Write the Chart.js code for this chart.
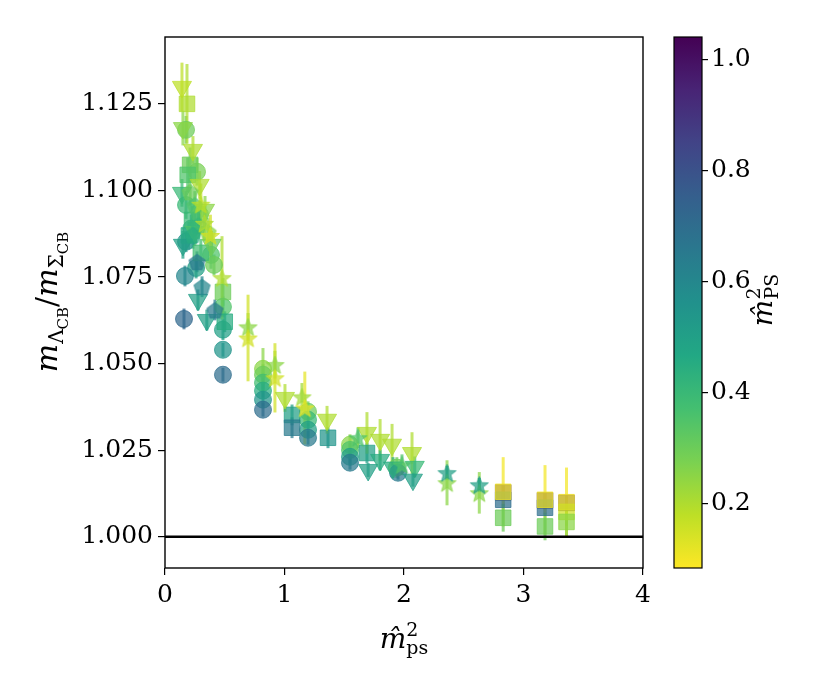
<!DOCTYPE html>
<html>
<head>
<meta charset="utf-8">
<script src="https://cdn.jsdelivr.net/npm/chart.js@4"></script>
<style>
  body { margin: 0; background: #fff; }
  #wrap { position: relative; width: 830px; height: 698px; }
  #wrap canvas { position: absolute; left: 0; top: 0; }
</style>
</head>
<body>
<div id="wrap">
  <canvas id="mainChart" width="830" height="698"></canvas>
  <canvas id="cbChart" width="830" height="698"></canvas>
</div>
<script>
/* ================= DATA ================= */
const X_TICKS = [0, 1, 2, 3, 4];
const Y_TICKS = [1.000, 1.025, 1.050, 1.075, 1.100, 1.125];
const CB_TICKS = [0.2, 0.4, 0.6, 0.8, 1.0];
const CB_MIN = 0.083, CB_MAX = 1.041;

// circles
const CIRC_X = [0.176, 0.268, 0.176, 0.293, 0.22, 0.176, 0.385, 0.41, 0.26, 0.167, 0.159, 0.485, 0.485, 0.485, 0.485,
  0.82, 0.82, 0.82, 0.82, 0.82, 0.82, 1.197, 1.197, 1.197, 1.197, 1.548, 1.548, 1.548, 1.548, 1.94, 1.95];
const CIRC_Y = [1.1175, 1.1054, 1.0958, 1.0930, 1.0890, 1.0852, 1.0814, 1.0785, 1.0776, 1.0753, 1.0629, 1.0664, 1.0598, 1.0540, 1.0468,
  1.0485, 1.0468, 1.0445, 1.0422, 1.0396, 1.0367, 1.0361, 1.0338, 1.0309, 1.0286, 1.0266, 1.0251, 1.0231, 1.0214, 1.0200, 1.0185];
const CIRC_ERR = [0.004, 0.004, 0.004, 0.004, 0.004, 0.003, 0.004, 0.003, 0.003, 0.003, 0.003, 0.003, 0.003, 0.002, 0.002,
  0.006, 0.003, 0.003, 0.002, 0.002, 0.002, 0.003, 0.002, 0.002, 0.002, 0.003, 0.002, 0.002, 0.002, 0.003, 0.002];
const CIRC_C = [0.30, 0.28, 0.40, 0.30, 0.45, 0.55, 0.35, 0.30, 0.50, 0.60, 0.72, 0.35, 0.50, 0.55, 0.70,
  0.25, 0.30, 0.38, 0.45, 0.55, 0.70, 0.30, 0.40, 0.50, 0.65, 0.25, 0.35, 0.50, 0.65, 0.30, 0.65];

// squares
const SQ_X = [0.184, 0.21, 0.19, 0.226, 0.20, 0.30, 0.485, 0.50, 1.063, 1.063, 1.364, 1.69,
  2.83, 2.83, 2.83, 2.83, 3.18, 3.18, 3.18, 3.18, 3.36, 3.36, 3.36, 3.36];
const SQ_Y = [1.1250, 1.1074, 1.1045, 1.0915, 1.0870, 1.0820, 1.0707, 1.0621, 1.0352, 1.0315, 1.0286, 1.0242,
  1.0128, 1.0107, 1.0130, 1.0055, 1.0105, 1.0084, 1.0107, 1.0030, 1.0098, 1.0100, 1.0072, 1.0043];
const SQ_ERR = [0.0115, 0.005, 0.005, 0.004, 0.004, 0.004, 0.004, 0.003, 0.003, 0.003, 0.003, 0.003,
  0.002, 0.002, 0.010, 0.004, 0.002, 0.002, 0.010, 0.004, 0.002, 0.010, 0.004, 0.004];
const SQ_C = [0.20, 0.30, 0.35, 0.40, 0.45, 0.38, 0.30, 0.45, 0.50, 0.65, 0.55, 0.50,
  0.95, 0.70, 0.10, 0.30, 0.95, 0.70, 0.10, 0.30, 0.95, 0.10, 0.15, 0.25];

// triangles (down)
const TRI_X = [0.142, 0.15, 0.234, 0.142, 0.29, 0.335, 0.25, 0.15, 0.39, 0.276, 0.35,
  1.004, 1.356, 1.69, 1.70, 1.80, 1.80, 1.90, 1.908, 2.067, 2.09, 2.075];
const TRI_Y = [1.1299, 1.1180, 1.1117, 1.0993, 1.1016, 1.0944, 1.0880, 1.0843, 1.0843, 1.0684, 1.0626,
  1.0401, 1.0338, 1.0300, 1.0193, 1.0280, 1.0222, 1.0266, 1.0200, 1.0242, 1.0202, 1.0165];
const TRI_ERR = [0.007, 0.005, 0.004, 0.004, 0.004, 0.004, 0.004, 0.004, 0.004, 0.003, 0.003,
  0.004, 0.004, 0.006, 0.002, 0.006, 0.003, 0.006, 0.003, 0.006, 0.003, 0.002];
const TRI_C = [0.18, 0.25, 0.20, 0.40, 0.20, 0.25, 0.35, 0.50, 0.30, 0.50, 0.50,
  0.20, 0.20, 0.20, 0.50, 0.20, 0.45, 0.20, 0.45, 0.20, 0.40, 0.50];

// pentagons
const PENT_X = [0.21, 0.25, 0.28, 0.234, 0.36, 0.268, 0.31, 0.418];
const PENT_Y = [1.0996, 1.0958, 1.0900, 1.0872, 1.0880, 1.0794, 1.0722, 1.0655];
const PENT_ERR = [0.004, 0.004, 0.004, 0.004, 0.004, 0.003, 0.003, 0.003];
const PENT_C = [0.30, 0.35, 0.40, 0.45, 0.25, 0.65, 0.60, 0.65];

// stars
const STAR_X = [0.30, 0.33, 0.38, 0.477, 0.695, 0.695, 0.92, 0.92, 1.146, 1.17, 1.615, 1.983, 2.36, 2.36, 2.63, 2.63];
const STAR_Y = [1.0960, 1.0905, 1.0870, 1.0748, 1.0606, 1.0574, 1.0497, 1.0459, 1.0404, 1.0372, 1.0286, 1.0208, 1.0156, 1.0185, 1.0127, 1.0150];
const STAR_ERR = [0.006, 0.005, 0.006, 0.012, 0.004, 0.0125, 0.004, 0.010, 0.004, 0.0105, 0.003, 0.003, 0.0065, 0.002, 0.006, 0.002];
const STAR_C = [0.18, 0.20, 0.15, 0.20, 0.25, 0.15, 0.25, 0.15, 0.22, 0.12, 0.35, 0.35, 0.25, 0.50, 0.25, 0.50];

/* ================= COLOURS ================= */
const VIRIDIS = ['#440154', '#482475', '#414487', '#355f8d', '#2a788e', '#21918c',
  '#22a884', '#44bf70', '#7ad151', '#bddf26', '#fde725'];
const ALPHA = 0.72;

function hexRgb(h) {
  return [parseInt(h.slice(1, 3), 16), parseInt(h.slice(3, 5), 16), parseInt(h.slice(5, 7), 16)];
}

// reversed viridis: low value -> yellow
function cmap(c, a) {
  let t = (c - CB_MIN) / (CB_MAX - CB_MIN);
  t = Math.max(0, Math.min(1, t));
  const v = (1 - t) * 10;
  const i = Math.min(9, Math.floor(v));
  const f = v - i;
  const p = hexRgb(VIRIDIS[i]), q = hexRgb(VIRIDIS[i + 1]);
  const rgb = p.map((x, k) => Math.round(x + (q[k] - x) * f));
  return `rgba(${rgb[0]},${rgb[1]},${rgb[2]},${a})`;
}

/* ================= MARKERS ================= */
const markerCache = {};
function marker(shape, color, size) {
  const key = shape + color + size;
  if (markerCache[key]) return markerCache[key];
  const cv = document.createElement('canvas');
  cv.width = cv.height = size;
  const g = cv.getContext('2d');
  const cx = size / 2, cy = size / 2, r = size / 2 - 1;
  g.fillStyle = color;
  g.strokeStyle = color;
  g.lineWidth = 1;
  g.beginPath();
  if (shape === 'pentagon') {
    for (let i = 0; i < 5; i++) {
      const a = -Math.PI / 2 + i * 2 * Math.PI / 5;
      g.lineTo(cx + r * Math.cos(a), cy + r * Math.sin(a) + 1);
    }
  } else {
    for (let i = 0; i < 10; i++) {
      const a = -Math.PI / 2 + i * Math.PI / 5;
      const rr = i % 2 ? r * 0.42 : r;
      g.lineTo(cx + rr * Math.cos(a), cy + rr * Math.sin(a) + 1);
    }
  }
  g.closePath();
  g.fill();
  g.stroke();
  markerCache[key] = cv;
  return cv;
}

function pts(xs, ys) {
  return xs.map((x, i) => ({ x: x, y: ys[i] }));
}

const SERIES = [
  { xs: CIRC_X, ys: CIRC_Y, err: CIRC_ERR, cs: CIRC_C, style: 'circle', radius: 8.5 },
  { xs: SQ_X, ys: SQ_Y, err: SQ_ERR, cs: SQ_C, style: 'rect', radius: 11 },
  { xs: TRI_X, ys: TRI_Y, err: TRI_ERR, cs: TRI_C, style: 'triangle', radius: 11, rot: 180 },
  { xs: PENT_X, ys: PENT_Y, err: PENT_ERR, cs: PENT_C, style: 'pentagon', size: 19 },
  { xs: STAR_X, ys: STAR_Y, err: STAR_ERR, cs: STAR_C, style: 'star', size: 21 }
];

const datasets = SERIES.map((s, k) => {
  const ds = {
    type: 'scatter',
    data: pts(s.xs, s.ys),
    err: s.err,
    cs: s.cs,
    order: 10 - k,
    pointBackgroundColor: s.cs.map(c => cmap(c, ALPHA)),
    pointBorderColor: s.cs.map(c => cmap(c, ALPHA)),
    pointBorderWidth: 1,
    pointRotation: s.rot || 0
  };
  if (s.size) {
    ds.pointStyle = (ctx) => marker(s.style, cmap(s.cs[ctx.dataIndex], ALPHA), s.size);
    ds.pointRadius = s.size / 2;
  } else {
    ds.pointStyle = s.style;
    ds.pointRadius = s.radius;
  }
  return ds;
});

// reference line at 1
datasets.push({
  type: 'line',
  data: [{ x: 0, y: 1 }, { x: 4, y: 1 }],
  borderColor: '#000',
  borderWidth: 2.5,
  pointRadius: 0,
  order: 0
});

/* ================= PLUGINS ================= */
const errorBars = {
  id: 'errorBars',
  beforeDatasetsDraw(chart) {
    const ctx = chart.ctx;
    const yS = chart.scales.y;
    ctx.save();
    ctx.beginPath();
    ctx.rect(chart.chartArea.left, chart.chartArea.top,
      chart.chartArea.right - chart.chartArea.left, chart.chartArea.bottom - chart.chartArea.top);
    ctx.clip();
    ctx.lineWidth = 3;
    chart.data.datasets.forEach((ds, di) => {
      if (!ds.err) return;
      const meta = chart.getDatasetMeta(di);
      ds.data.forEach((p, i) => {
        const el = meta.data[i];
        ctx.strokeStyle = cmap(ds.cs[i], ALPHA);
        ctx.beginPath();
        ctx.moveTo(el.x, yS.getPixelForValue(p.y + ds.err[i]));
        ctx.lineTo(el.x, yS.getPixelForValue(p.y - ds.err[i]));
        ctx.stroke();
      });
    });
    ctx.restore();
  }
};

const frame = {
  id: 'frame',
  afterDraw(chart) {
    const a = chart.chartArea;
    const ctx = chart.ctx;
    ctx.save();
    ctx.strokeStyle = '#000';
    ctx.lineWidth = 1.4;
    ctx.strokeRect(a.left, a.top, a.right - a.left, a.bottom - a.top);
    ctx.restore();
  }
};

const SERIF = '"DejaVu Serif"';
const IT30 = 'italic 30px ' + SERIF;
const IT28 = 'italic 28px ' + SERIF;
const R30 = '30px ' + SERIF;
const R20 = '20px ' + SERIF;
const R19 = '19px ' + SERIF;
const R15 = '15px ' + SERIF;

// draws runs of text with sub/superscripts, centred on (cx, baseline)
function drawMath(ctx, runs, cx, cy, rot) {
  let x = 0, lastStart = 0;
  const starts = [];
  runs.forEach(r => {
    ctx.font = r.font;
    const w = ctx.measureText(r.t).width;
    const s = r.stack ? lastStart : x;
    if (!r.stack) lastStart = s;
    starts.push(s);
    x = Math.max(x, s + w);
  });
  ctx.save();
  ctx.translate(cx, cy);
  ctx.rotate(rot);
  ctx.fillStyle = '#000';
  ctx.textBaseline = 'alphabetic';
  ctx.textAlign = 'left';
  runs.forEach((r, i) => {
    ctx.font = r.font;
    ctx.fillText(r.t, starts[i] - x / 2, r.dy || 0);
  });
  ctx.restore();
}

const mainLabels = {
  id: 'mainLabels',
  afterDraw(chart) {
    const ctx = chart.ctx;
    drawMath(ctx, [
      { t: 'm', font: IT30 },
      { t: 'Λ', font: R20, dy: 6 },
      { t: 'CB', font: R15, dy: 11 },
      { t: '/', font: R30 },
      { t: 'm', font: IT30 },
      { t: 'Σ', font: R20, dy: 6 },
      { t: 'CB', font: R15, dy: 11 }
    ], 57, 302, -Math.PI / 2);
    drawMath(ctx, [
      { t: 'm\u0302', font: IT28 },
      { t: '2', font: R19, dy: -12 },
      { t: 'ps', font: R19, dy: 6, stack: true }
    ], 404, 648, 0);
  }
};

const cbLabel = {
  id: 'cbLabel',
  afterDraw(chart) {
    const ctx = chart.ctx;
    const a = chart.chartArea;
    ctx.save();
    ctx.strokeStyle = '#000';
    ctx.lineWidth = 1.2;
    ctx.strokeRect(a.left, a.top, a.right - a.left, a.bottom - a.top);
    ctx.restore();
    drawMath(ctx, [
      { t: 'm\u0302', font: IT28 },
      { t: '2', font: R19, dy: -12 },
      { t: 'PS', font: R19, dy: 6, stack: true }
    ], 772, 300, -Math.PI / 2);
  }
};

/* ================= MAIN CHART ================= */
const tickFont = { family: 'DejaVu Serif', size: 25 };

new Chart(document.getElementById('mainChart'), {
  type: 'scatter',
  data: { datasets: datasets },
  options: {
    responsive: false,
    animation: false,
    events: [],
    layout: { padding: { left: 0, top: 37, right: 187, bottom: 0 } },
    plugins: { legend: { display: false }, tooltip: { enabled: false } },
    scales: {
      x: {
        type: 'linear', min: 0, max: 4,
        afterBuildTicks: (s) => { s.ticks = X_TICKS.map(v => ({ value: v })); },
        afterFit: (s) => { s.height = 130; },
        ticks: { font: tickFont, color: '#000', padding: 5, maxRotation: 0 },
        grid: { drawOnChartArea: false, drawTicks: true, tickLength: 7, color: '#000', lineWidth: 1.2 },
        border: { display: false }
      },
      y: {
        type: 'linear', min: 0.991, max: 1.1443,
        afterBuildTicks: (s) => { s.ticks = Y_TICKS.map(v => ({ value: v })); },
        afterFit: (s) => { s.width = 165; },
        ticks: { font: tickFont, color: '#000', padding: 5, callback: (v) => Number(v).toFixed(3) },
        grid: { drawOnChartArea: false, drawTicks: true, tickLength: 7, color: '#000', lineWidth: 1.2 },
        border: { display: false }
      }
    }
  },
  plugins: [errorBars, frame, mainLabels]
});

/* ================= COLORBAR ================= */
new Chart(document.getElementById('cbChart'), {
  type: 'bar',
  data: {
    labels: [''],
    datasets: [{
      data: [[CB_MIN, CB_MAX]],
      barPercentage: 1,
      categoryPercentage: 1,
      borderWidth: 0,
      backgroundColor: (ctx) => {
        const a = ctx.chart.chartArea;
        if (!a) return 'transparent';
        const g = ctx.chart.ctx.createLinearGradient(0, a.bottom, 0, a.top);
        for (let i = 0; i <= 10; i++) g.addColorStop(i / 10, VIRIDIS[10 - i]);
        return g;
      }
    }]
  },
  options: {
    responsive: false,
    animation: false,
    events: [],
    layout: { padding: { left: 674, top: 37, right: 0, bottom: 130 } },
    plugins: { legend: { display: false }, tooltip: { enabled: false } },
    scales: {
      x: { display: false },
      y: {
        position: 'right',
        min: CB_MIN, max: CB_MAX,
        afterBuildTicks: (s) => { s.ticks = CB_TICKS.map(v => ({ value: v })); },
        afterFit: (s) => { s.width = 128; },
        ticks: { font: tickFont, color: '#000', padding: 3, callback: (v) => Number(v).toFixed(1) },
        grid: { drawOnChartArea: false, drawTicks: true, tickLength: 6, color: '#000', lineWidth: 1.2 },
        border: { display: false }
      }
    }
  },
  plugins: [cbLabel]
});
</script>
</body>
</html>
